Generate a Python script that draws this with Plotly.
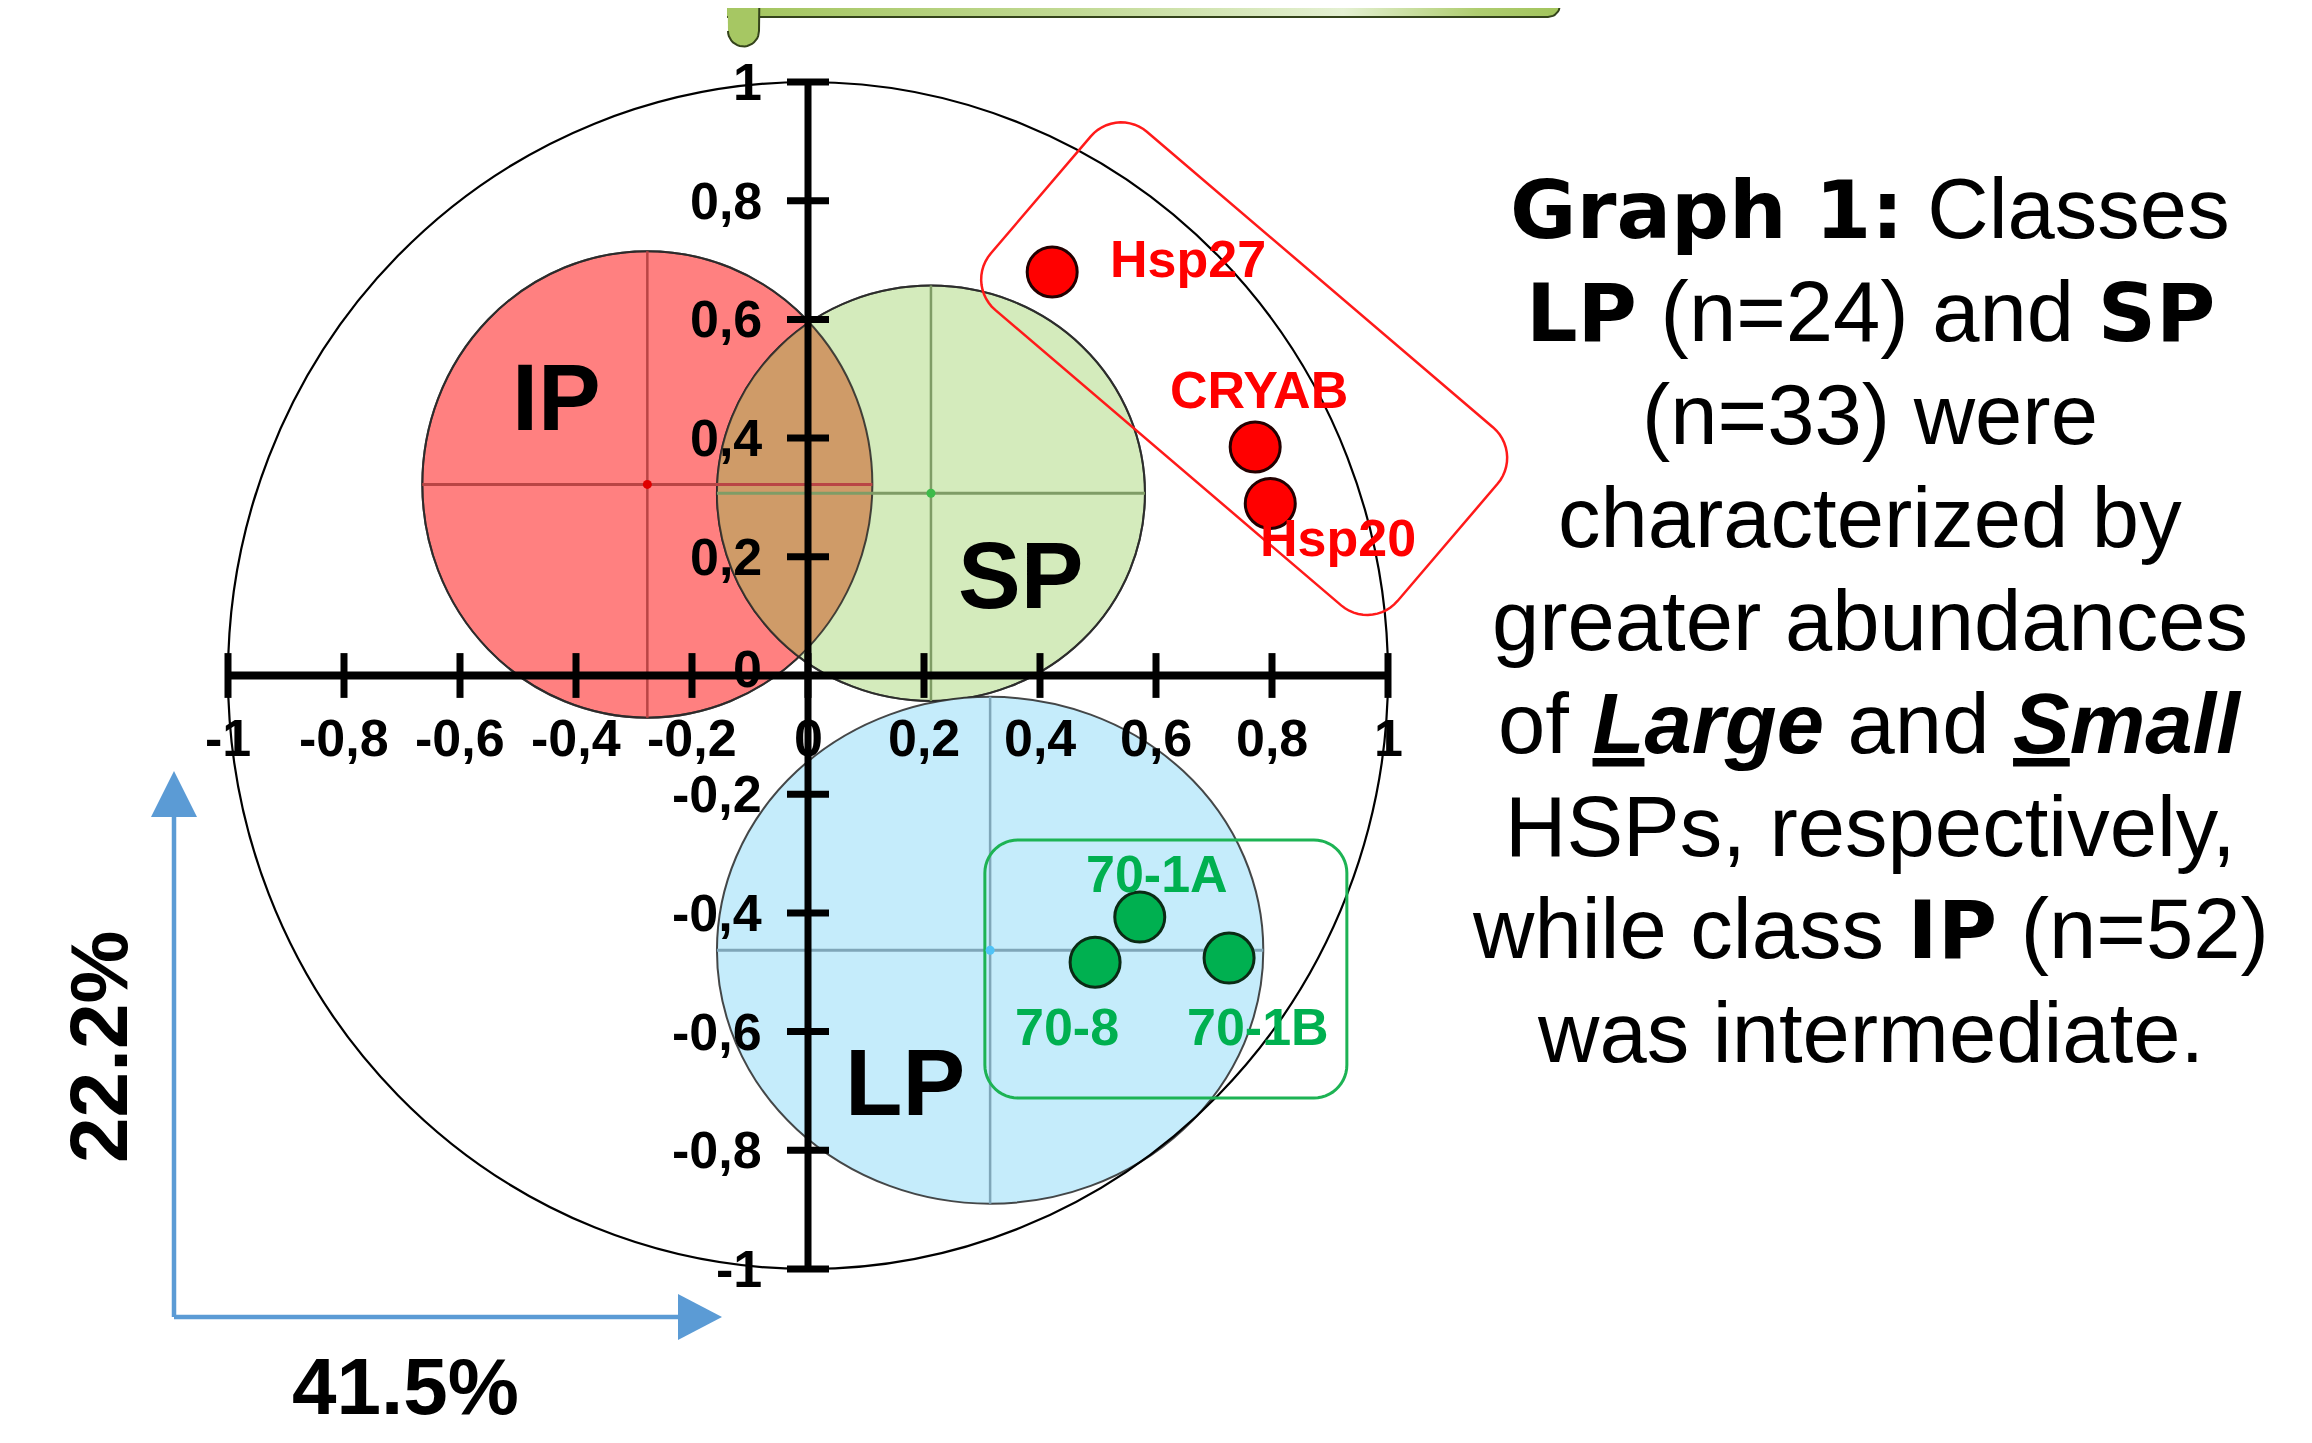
import numpy as np
import plotly.graph_objects as go

# ---------------- data ----------------
tick_values = [-1.0, -0.8, -0.6, -0.4, -0.2, 0.0, 0.2, 0.4, 0.6, 0.8, 1.0]
tick_labels = ["-1", "-0,8", "-0,6", "-0,4", "-0,2", "0", "0,2", "0,4", "0,6", "0,8", "1"]

class_names = ["IP", "SP", "LP"]
class_cx = [-0.277, 0.212, 0.314]
class_cy = [0.322, 0.307, -0.463]
class_rx = [0.388, 0.369, 0.471]
class_ry = [0.393, 0.350, 0.427]
class_label_x = [-0.433, 0.366, 0.167]
class_label_y = [0.469, 0.169, -0.685]

red_names = ["Hsp27", "CRYAB", "Hsp20"]
red_x = [0.421, 0.771, 0.797]
red_y = [0.680, 0.385, 0.290]

green_names = ["70-1A", "70-8", "70-1B"]
green_x = [0.572, 0.495, 0.726]
green_y = [-0.407, -0.483, -0.476]

pc1_label = "41.5%"
pc2_label = "22.2%"

BOLD = "<span style='font-family:DejaVu Sans;font-size:81px'><b>{}</b></span>"
text_lines = [
    BOLD.format("Graph 1:") + " Classes",
    BOLD.format("LP") + " (n=24) and " + BOLD.format("SP"),
    "(n=33) were",
    "characterized by",
    "greater abundances",
    "of <b><i><u>L</u>arge</i></b> and <b><i><u>S</u>mall</i></b>",
    "HSPs, respectively,",
    "while class " + BOLD.format("IP") + " (n=52)",
    "was intermediate.",
]

# ---------------- geometry / styles ----------------
W, H = 2312, 1443          # page size
OFF = 8                    # default page body margin
FW, FH = W - 2 * OFF, H - 2 * OFF
PX_X, PX_Y = 580.0, 593.5  # pixels per data unit
ORIGIN_X, ORIGIN_Y = 808 - OFF, 675.5 - OFF
X_RANGE = [-ORIGIN_X / PX_X, (FW - ORIGIN_X) / PX_X]
Y_RANGE = [(ORIGIN_Y - FH) / PX_Y, ORIGIN_Y / PX_Y]
SX, SY = PX_X, PX_Y

FONT = "Liberation Sans, Arial, sans-serif"
class_fill = ["#FF8080", "#D4EBBC", "#C5ECFB"]
class_cross = ["#B94545", "#7F9C66", "#7FA6B8"]
class_dot = ["#E00000", "#3DBB4A", "#4FC3F7"]
lens_fill = "#CF9B68"
outline = "rgba(40,40,40,0.85)"


def px2x(px):
    return X_RANGE[0] + (px - OFF) / SX


def px2y(py):
    return Y_RANGE[1] - (py - OFF) / SY


def P(px, py):
    return (px - OFF) / FW, 1 - (py - OFF) / FH


def ellipse(cx, cy, rx, ry, t):
    return cx + rx * np.cos(t), cy + ry * np.sin(t)


def inside(x, y, cx, cy, rx, ry):
    return ((x - cx) / rx) ** 2 + ((y - cy) / ry) ** 2 <= 1.0


def path_from(xs, ys):
    return "M " + " L ".join(f"{a:.5f},{b:.5f}" for a, b in zip(xs, ys)) + " Z"


def rounded_rect(cx, cy, w_px, h_px, r_px, angle_deg, n=14):
    hw, hh = w_px / 2, h_px / 2
    pts = []
    corners = [(hw - r_px, hh - r_px, 0), (-(hw - r_px), hh - r_px, 90),
               (-(hw - r_px), -(hh - r_px), 180), (hw - r_px, -(hh - r_px), 270)]
    for ox, oy, a0 in corners:
        for a in np.radians(np.linspace(a0, a0 + 90, n)):
            pts.append((ox + r_px * np.cos(a), oy + r_px * np.sin(a)))
    th = np.radians(angle_deg)
    xs, ys = [], []
    for x, y in pts:
        xr = x * np.cos(th) - y * np.sin(th)
        yr = x * np.sin(th) + y * np.cos(th)
        xs.append(cx + xr / SX)
        ys.append(cy - yr / SY)
    return path_from(xs, ys)


shapes = []
annotations = []

# class ellipses: IP, SP
for i in range(2):
    shapes.append(dict(type="circle", xref="x", yref="y", layer="below",
                       x0=class_cx[i] - class_rx[i], x1=class_cx[i] + class_rx[i],
                       y0=class_cy[i] - class_ry[i], y1=class_cy[i] + class_ry[i],
                       fillcolor=class_fill[i], line=dict(color=outline, width=2)))

# lens (overlap IP & SP)
t1 = np.linspace(-np.pi, np.pi, 1441)
ax_, ay_ = ellipse(class_cx[0], class_cy[0], class_rx[0], class_ry[0], t1)
m1 = inside(ax_, ay_, class_cx[1], class_cy[1], class_rx[1], class_ry[1])
t2 = np.linspace(0, 2 * np.pi, 1441)
bx_, by_ = ellipse(class_cx[1], class_cy[1], class_rx[1], class_ry[1], t2)
m2 = inside(bx_, by_, class_cx[0], class_cy[0], class_rx[0], class_ry[0])
lx = np.concatenate([ax_[m1], bx_[m2]])
ly = np.concatenate([ay_[m1], by_[m2]])
shapes.append(dict(type="path", xref="x", yref="y", layer="below", path=path_from(lx, ly),
                   fillcolor=lens_fill, line=dict(width=0)))
for i in range(2):
    shapes.append(dict(type="circle", xref="x", yref="y", layer="below",
                       x0=class_cx[i] - class_rx[i], x1=class_cx[i] + class_rx[i],
                       y0=class_cy[i] - class_ry[i], y1=class_cy[i] + class_ry[i],
                       line=dict(color=outline, width=2)))

# LP ellipse
shapes.append(dict(type="circle", xref="x", yref="y", layer="below",
                   x0=class_cx[2] - class_rx[2], x1=class_cx[2] + class_rx[2],
                   y0=class_cy[2] - class_ry[2], y1=class_cy[2] + class_ry[2],
                   fillcolor=class_fill[2], line=dict(color=outline, width=2)))

# crosshairs
for i in range(3):
    shapes.append(dict(type="line", xref="x", yref="y", layer="below",
                       x0=class_cx[i] - class_rx[i], x1=class_cx[i] + class_rx[i],
                       y0=class_cy[i], y1=class_cy[i],
                       line=dict(color=class_cross[i], width=3)))
    shapes.append(dict(type="line", xref="x", yref="y", layer="below",
                       x0=class_cx[i], x1=class_cx[i],
                       y0=class_cy[i] - class_ry[i], y1=class_cy[i] + class_ry[i],
                       line=dict(color=class_cross[i], width=2.5)))

# correlation circle
shapes.append(dict(type="circle", xref="x", yref="y", layer="below",
                   x0=-1, x1=1, y0=-1, y1=1, line=dict(color="black", width=2.2)))

# highlight boxes
shapes.append(dict(type="path", xref="x", yref="y", layer="below",
                   path=rounded_rect(0.752, 0.517, 535, 234, 40, 40.5),
                   line=dict(color="#FF1A1A", width=2.5)))
shapes.append(dict(type="path", xref="x", yref="y", layer="below",
                   path=rounded_rect(0.617, -0.4945, 362, 258, 33, 0),
                   line=dict(color="#1DB354", width=3)))

# axes
shapes.append(dict(type="line", xref="x", yref="y", layer="below", x0=tick_values[0], x1=tick_values[-1],
                   y0=0, y1=0, line=dict(color="black", width=8)))
shapes.append(dict(type="line", xref="x", yref="y", layer="below", x0=0, x1=0,
                   y0=tick_values[0], y1=tick_values[-1], line=dict(color="black", width=7)))

# blue arrows (decoration, paper coords)
blue = "#5B9BD5"
x0p, y0p = P(174, 1317)
shapes.append(dict(type="line", xref="paper", yref="paper", x0=x0p, y0=y0p,
                   x1=P(174, 812)[0], y1=P(174, 812)[1], line=dict(color=blue, width=4.5)))
shapes.append(dict(type="line", xref="paper", yref="paper", x0=x0p, y0=y0p,
                   x1=P(684, 1317)[0], y1=P(684, 1317)[1], line=dict(color=blue, width=4.5)))
tri_v = [P(174, 771), P(151, 817), P(197, 817)]
tri_h = [P(722, 1317), P(678, 1294), P(678, 1340)]
for tri in (tri_v, tri_h):
    shapes.append(dict(type="path", xref="paper", yref="paper",
                       path="M " + " L ".join(f"{a:.5f},{b:.5f}" for a, b in tri) + " Z",
                       fillcolor=blue, line=dict(width=0)))

fig = go.Figure()

# banner (decoration) with gradient
bx0, bx1, by1, rr = 727, 1560, 17, 12
ang = np.radians(np.linspace(0, 90, 12))
bpx = [bx0, bx1] + [bx1 - rr + rr * np.cos(a) for a in ang] + [bx0]
bpy = [-10, -10] + [by1 - rr + rr * np.sin(a) for a in ang] + [by1]
fig.add_trace(go.Scatter(x=[px2x(v) for v in bpx], y=[px2y(v) for v in bpy], mode="lines",
                         fill="toself", line=dict(color="#34431B", width=2),
                         fillgradient=dict(type="horizontal",
                                           colorscale=[[0, "#A3C45E"], [0.08, "#A8C866"], [0.42, "#C2DA95"],
                                                       [0.74, "#E4F0D2"], [0.9, "#AFCD70"], [1, "#A2C45C"]]),
                         hoverinfo="skip"))
cang = np.radians(np.linspace(0, 180, 20))
cx_c, cr = 743.5, 15.5
cpx = [727.5, 759.5] + [cx_c + cr * np.cos(a) for a in cang]
cpy = [-10, -10] + [46.5 - cr + cr * np.sin(a) for a in cang]
fig.add_trace(go.Scatter(x=[px2x(v) for v in cpx], y=[px2y(v) for v in cpy], mode="lines",
                         fill="toself", fillcolor="#A6C763", line=dict(color="#34431B", width=2),
                         hoverinfo="skip"))

# axis ticks
fig.add_trace(go.Scatter(x=tick_values, y=[0] * len(tick_values), mode="markers",
                         marker=dict(symbol="line-ns", size=32, line=dict(color="black", width=7)),
                         hoverinfo="skip"))
fig.add_trace(go.Scatter(x=[0] * len(tick_values), y=tick_values, mode="markers",
                         marker=dict(symbol="line-ew", size=30, line=dict(color="black", width=7)),
                         hoverinfo="skip"))

# class centres
fig.add_trace(go.Scatter(x=class_cx, y=class_cy, mode="markers",
                         marker=dict(size=9, color=class_dot), hoverinfo="skip"))

# variables
fig.add_trace(go.Scatter(x=red_x, y=red_y, mode="markers",
                         marker=dict(size=50, color="#FF0000", line=dict(color="#220000", width=3)),
                         hoverinfo="skip"))
fig.add_trace(go.Scatter(x=green_x, y=green_y, mode="markers",
                         marker=dict(size=50, color="#00B050", line=dict(color="#0B2A14", width=3)),
                         hoverinfo="skip"))

# tick labels
for v, lab in zip(tick_values, tick_labels):
    annotations.append(dict(x=v, y=0, xref="x", yref="y", text=lab, showarrow=False,
                            xanchor="center", yanchor="middle", yshift=-62,
                            font=dict(family=FONT, size=52, color="black", weight="bold")))
    annotations.append(dict(x=0, y=v, xref="x", yref="y", text=lab, showarrow=False,
                            xanchor="right", yanchor="middle", xshift=-44,
                            yshift=7 if v == 0 else 0,
                            font=dict(family=FONT, size=52, color="black", weight="bold")))

# class labels
for name, lx_, ly_ in zip(class_names, class_label_x, class_label_y):
    annotations.append(dict(x=lx_, y=ly_, xref="x", yref="y", text=name, showarrow=False,
                            xanchor="center", yanchor="middle",
                            font=dict(family=FONT, size=94, color="black", weight="bold")))

# variable labels (pixel offsets from points)
red_off = [(136, 13), (4, 57), (68, -35)]
green_off = [(17, 43), (-28, -65), (29, -69)]
for name, x, y, (dx, dy) in zip(red_names, red_x, red_y, red_off):
    annotations.append(dict(x=x, y=y, xref="x", yref="y", text=name, showarrow=False,
                            xanchor="center", yanchor="middle", xshift=dx, yshift=dy,
                            font=dict(family=FONT, size=52, color="#FF0000", weight="bold")))
for name, x, y, (dx, dy) in zip(green_names, green_x, green_y, green_off):
    annotations.append(dict(x=x, y=y, xref="x", yref="y", text=name, showarrow=False,
                            xanchor="center", yanchor="middle", xshift=dx, yshift=dy,
                            font=dict(family=FONT, size=52, color="#00B050", weight="bold")))

# percentage labels
annotations.append(dict(x=P(405, 1386)[0], y=P(405, 1386)[1], xref="paper", yref="paper",
                        text=pc1_label, showarrow=False, xanchor="center", yanchor="middle",
                        font=dict(family=FONT, size=80, color="black", weight="bold")))
annotations.append(dict(x=P(98, 1047)[0], y=P(98, 1047)[1], xref="paper", yref="paper",
                        text=pc2_label, showarrow=False, textangle=-90,
                        xanchor="center", yanchor="middle",
                        font=dict(family=FONT, size=82, color="black", weight="bold")))

# caption block
for i, line in enumerate(text_lines):
    xp, yp = P(1870, 209 + 102.9 * i)
    annotations.append(dict(x=xp, y=yp, xref="paper", yref="paper", text=line, showarrow=False,
                            xanchor="center", yanchor="middle",
                            font=dict(family=FONT, size=85, color="black")))

fig.update_layout(
    width=FW, height=FH, margin=dict(l=0, r=0, t=0, b=0),
    paper_bgcolor="white", plot_bgcolor="white", showlegend=False,
    xaxis=dict(range=X_RANGE, visible=False, fixedrange=True),
    yaxis=dict(range=Y_RANGE, visible=False, fixedrange=True),
    shapes=shapes, annotations=annotations,
)

fig.write_html("out.html")
